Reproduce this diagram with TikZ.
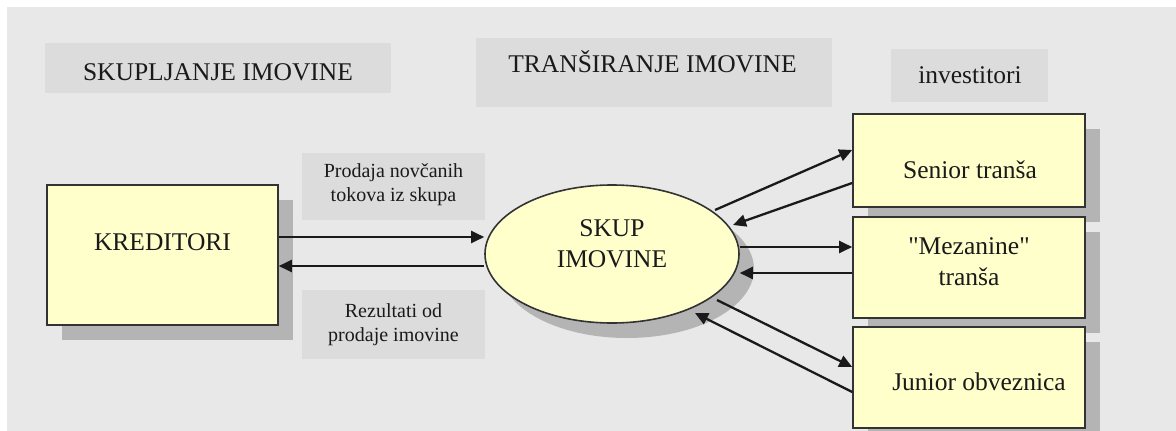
\documentclass[tikz,border=0pt]{standalone}
\usepackage{fontspec}
\setmainfont{Liberation Serif}
\newfontfamily\serf{Liberation Serif}
\usetikzlibrary{shapes.geometric,shadows,arrows.meta,calc}
\definecolor{bg}{HTML}{E8E8E8}
\definecolor{hdr}{HTML}{DCDCDC}
\definecolor{yel}{HTML}{FFFFCC}
\definecolor{shd}{HTML}{B4B4B4}
\definecolor{edgec}{HTML}{333333}
\definecolor{ink}{HTML}{1A1A1A}
\begin{document}
\begin{tikzpicture}[x=1pt,y=-1pt,
  big/.style={font=\serf\fontsize{25.5}{31}\selectfont, text=ink, inner sep=0pt},
  small/.style={font=\serf\fontsize{20}{24}\selectfont, text=ink, inner sep=0pt, align=center},
  hdrbox/.style={fill=hdr, draw=none, inner sep=0pt},
  ybox/.style={fill=yel, draw=edgec, line width=1.6pt, inner sep=0pt,
    drop shadow={shadow xshift=15pt, shadow yshift=-15pt, fill=shd, opacity=1}},
  arr/.style={draw=ink, line width=2.3pt, -{Triangle[length=13pt,width=12pt]}}
]
\useasboundingbox (0,0) rectangle (1176,431);
\fill[white] (0,0) rectangle (1176,431);
\fill[bg] (7,7) rectangle (1176,431);

% header boxes
\node[hdrbox, minimum width=346pt, minimum height=50pt] (hA) at (218,68) {};
\node[hdrbox, minimum width=356pt, minimum height=69pt] (hB) at (654,72.5) {};
\node[hdrbox, minimum width=157pt, minimum height=53pt] (hC) at (969.5,75.5) {};
% label boxes
\node[hdrbox, minimum width=183pt, minimum height=67pt] (lP) at (393.5,186.5) {};
\node[hdrbox, minimum width=183pt, minimum height=69pt] (lR) at (393.5,324.5) {};

% main shapes
\node[ybox, rectangle, minimum width=231pt, minimum height=140pt] (kred) at (162.5,255) {};
\node[ybox, ellipse, minimum width=254pt, minimum height=138pt] (pool) at (612,254) {};
\node[ybox, rectangle, minimum width=232pt, minimum height=93pt] (sen) at (969,160.5) {};
\node[ybox, rectangle, minimum width=232pt, minimum height=101pt] (mez) at (969,267.5) {};
\node[ybox, rectangle, minimum width=232pt, minimum height=101pt] (jun) at (969,377.5) {};

% connectors
\draw[arr] ([yshift=18pt]kred.east) -- ([yshift=18pt]kred.east -| pool.west);
\draw[arr] ([yshift=-11pt]kred.east -| pool.west) -- ([yshift=-11pt]kred.east);
\draw[arr] ($(pool.center)+(103,-44)$) -- ([yshift=10.5pt]sen.west);
\draw[arr] ([yshift=-22.5pt]sen.west) -- ($(pool.center)+(121,-29)$);
\draw[arr] ([yshift=20.5pt]mez.west -| pool.east) -- ([yshift=20.5pt]mez.west);
\draw[arr] ([yshift=-5.5pt]mez.west) -- ([yshift=-5.5pt]mez.west -| pool.east);
\draw[arr] ($(pool.center)+(105,46)$) -- ([yshift=10.5pt]jun.west);
\draw[arr] ([yshift=-14.5pt]jun.west) -- ($(pool.center)+(83,59)$);

% texts
\node[big, anchor=base] (tA) at (218,80) {SKUPLJANJE IMOVINE};
\node[big, anchor=base] (tB) at (652.5,72) {TRANŠIRANJE IMOVINE};
\node[big, anchor=base] (tC) at (970,83) {investitori};
\node[small] (tP) at (393.5,185) {Prodaja novčanih\\tokova iz skupa};
\node[small] (tR) at (393.5,325) {Rezultati od\\prodaje imovine};
\node[big, anchor=base] (tK) at (162.5,250) {KREDITORI};
\node[big, align=center] (tPool) at (612,244) {SKUP\\IMOVINE};
\node[big, anchor=base] (tS) at (970,178) {Senior tranša};
\node[big, align=center] (tM) at (969,262) {"Mezanine"\\tranša};
\node[big, anchor=base] (tJ) at (979,390) {Junior obveznica};
\end{tikzpicture}
\end{document}
